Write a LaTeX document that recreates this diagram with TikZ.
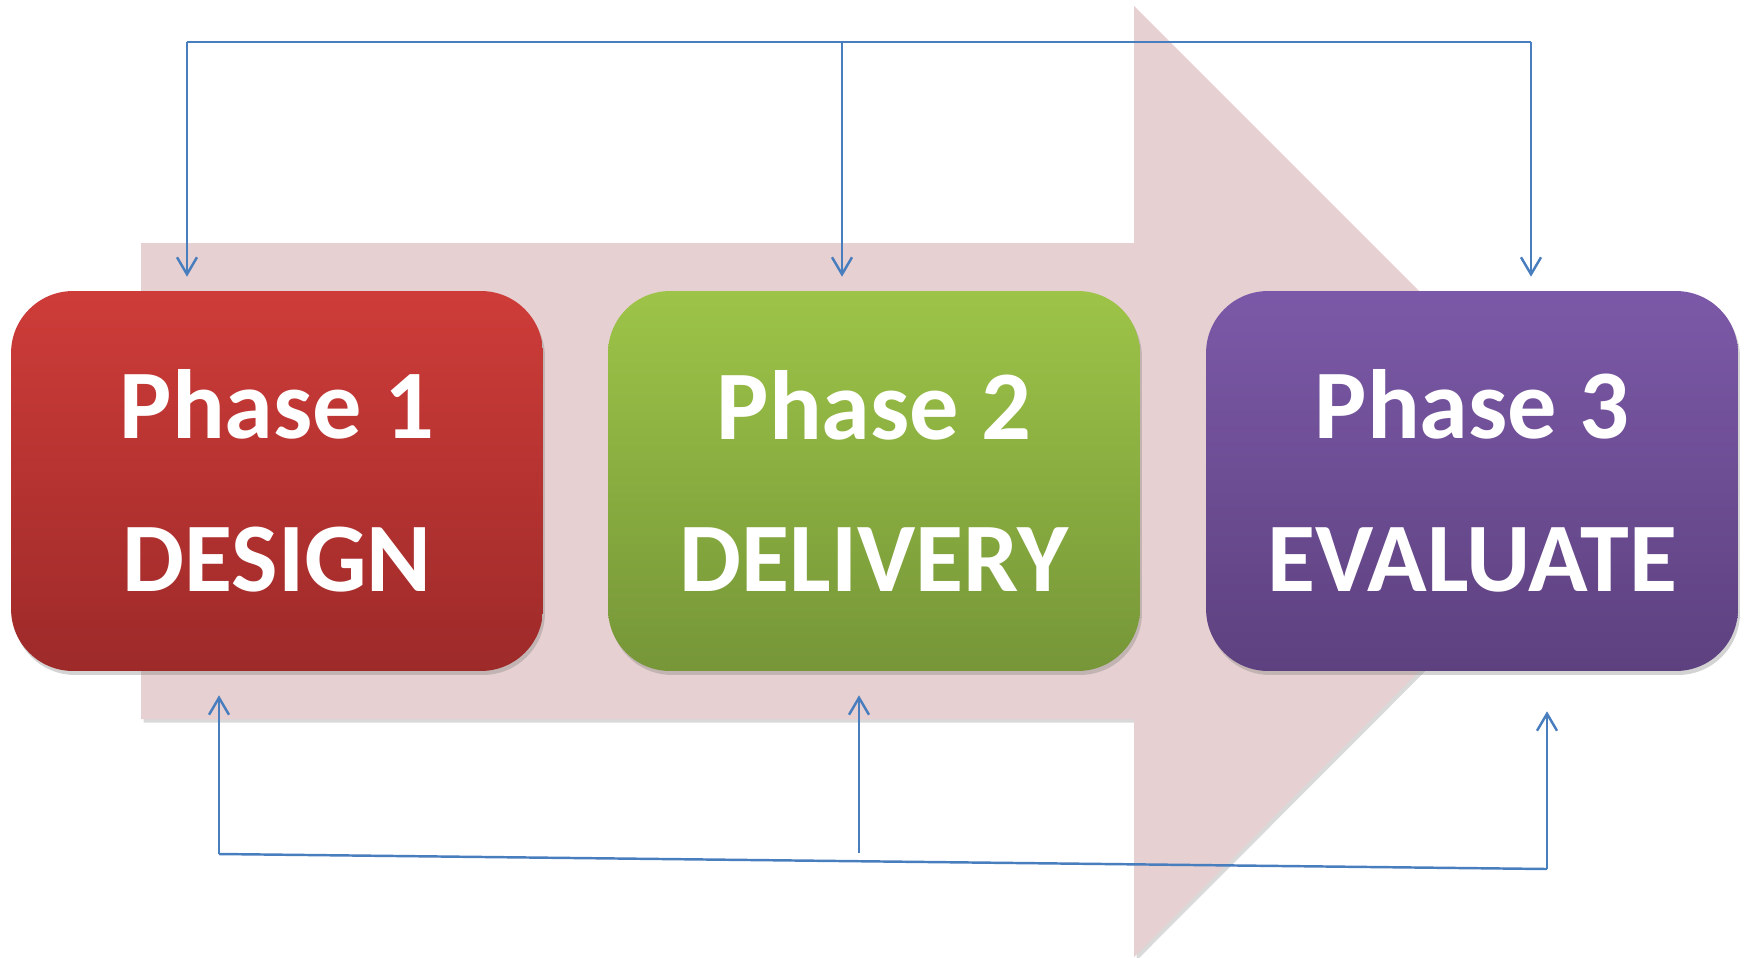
\documentclass[tikz,border=0pt]{standalone}
\usepackage{fontspec}
\setmainfont{Carlito}
\usetikzlibrary{arrows.meta,shadows}
\definecolor{arrowpink}{RGB}{231,208,209}
\definecolor{linkblue}{RGB}{72,125,190}
\definecolor{redtop}{RGB}{206,60,57}
\definecolor{redbot}{RGB}{157,42,41}
\definecolor{greentop}{RGB}{157,196,72}
\definecolor{greenbot}{RGB}{118,150,56}
\definecolor{purpletop}{RGB}{124,89,168}
\definecolor{purplebot}{RGB}{93,65,127}
\tikzset{
  phase/.style={rounded corners=1.24cm, minimum width=10.64cm, minimum height=7.6cm,
    inner sep=0pt, align=center, text=white,
    font=\fontsize{56}{87}\selectfont\bfseries,
    drop shadow={shadow xshift=0.04cm, shadow yshift=-0.08cm, opacity=0.35}},
  link/.style={draw=linkblue, line width=1.4pt},
  linkarrow/.style={link, -{Straight Barb[length=0.34cm,width=0.4cm]}}
}
\begin{document}
\begin{tikzpicture}[x=0.02cm,y=-0.02cm]
      \useasboundingbox (0,0) rectangle (1747,957);
      % big arrow behind the phases
      \fill[arrowpink, drop shadow={shadow xshift=0.05cm, shadow yshift=-0.07cm, opacity=0.3}]
        (141,243) -- (1134,243) -- (1134,6) -- (1609,481)
        -- (1134,957) -- (1134,719) -- (141,719) -- cycle;
      \draw
        (277,481) node[phase, top color=redtop, bottom color=redbot] (p1){Phase 1\\DESIGN}
        (874,481) node[phase, top color=greentop, bottom color=greenbot] (p2){Phase 2\\DELIVERY}
        (1472,481) node[phase, top color=purpletop, bottom color=purplebot] (p3){Phase 3\\EVALUATE};
      \coordinate (t1) at (187,42);
      \coordinate (t2) at (842,42);
      \coordinate (t3) at (1531,42);
      \coordinate (b1) at (219,854);
      \coordinate (b2) at (859,853);
      \coordinate (b3) at (1547,869);
      \draw[link] (t1) -- (t3);
      \begin{scope}[shorten >=0.28cm]
        \draw[linkarrow] (t1) -- (t1 |- p1.north);
        \draw[linkarrow] (t2) -- (t2 |- p2.north);
        \draw[linkarrow] (t3) -- (t3 |- p3.north);
      \end{scope}
      \draw[link] (b1) -- (b3);
      \draw[linkarrow, shorten >=0.48cm] (b1) -- (b1 |- p1.south);
      \draw[linkarrow, shorten >=0.48cm] (b2) -- (b2 |- p2.south);
      \draw[linkarrow, shorten >=0.8cm] (b3) -- (b3 |- p3.south);
    \end{tikzpicture}
\end{document}
